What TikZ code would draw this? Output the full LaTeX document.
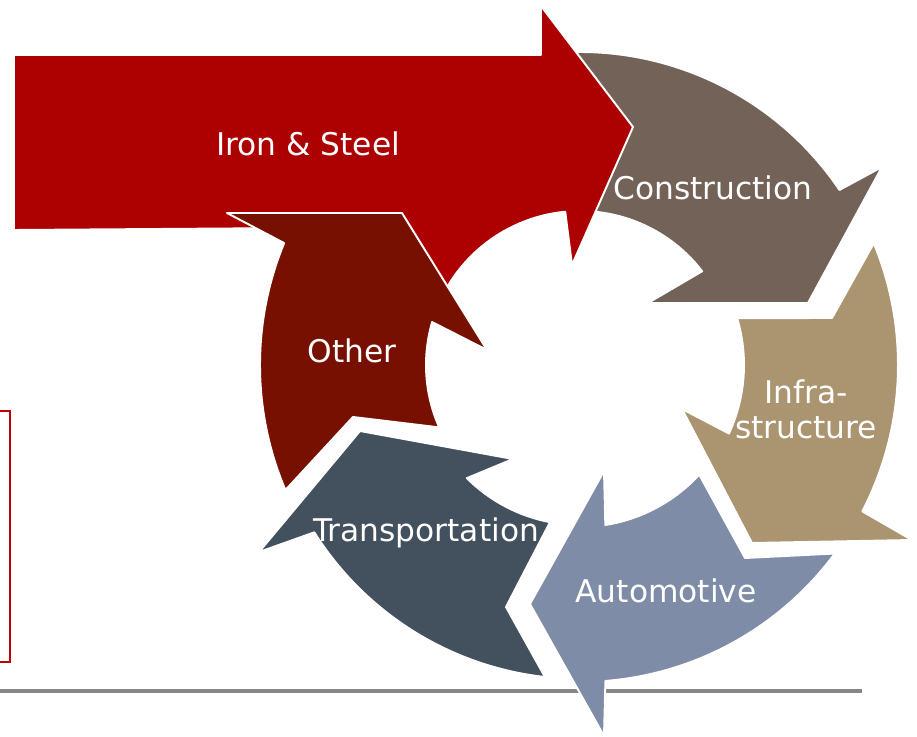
\documentclass[tikz,border=0pt]{standalone}
\usepackage{fontspec}
\setmainfont{DejaVu Sans}

\definecolor{ironred}{RGB}{173,0,0}
\definecolor{otherred}{RGB}{119,16,0}
\definecolor{constrbrown}{RGB}{115,98,87}
\definecolor{infratan}{RGB}{171,148,112}
\definecolor{autoblue}{RGB}{127,140,168}
\definecolor{transslate}{RGB}{67,80,94}
\definecolor{rulegray}{RGB}{134,134,134}
\definecolor{boxred}{RGB}{192,0,0}

\begin{document}
\begin{tikzpicture}[
    x=0.02cm, y=0.02cm,
    segment/.style={draw=white, line width=1.1pt, line join=round},
    word/.style={text=white, anchor=base, inner sep=0pt,
      font=\fontsize{17.8}{19.8}\selectfont},
  ]
    \useasboundingbox (-580,-372) rectangle (337,365);

    \draw[rulegray, line width=2.3pt] (-580,-326) -- (282,-326);
    \draw[boxred, line width=1.1pt] (-590,-46) -- (-570,-46) -- (-570,-297) -- (-590,-297);

    % ring segments, clockwise from the top
    \filldraw[segment, fill=constrbrown] (94:154) -- (94:313)
      arc[start angle=94, end angle=34, radius=313]
      -- (302,198) -- (228,62) -- (68,62) -- (37.5:154)
      arc[start angle=37.5, end angle=94, radius=154] -- cycle;
    \filldraw[segment, fill=infratan] (16.6:164) -- (252,47) -- (22.5:318)
      arc[start angle=22.5, end angle=-27.4, radius=318]
      -- (332,-175) -- (172,-178) -- (102,-44) -- (-24.7:164)
      arc[start angle=-24.7, end angle=16.6, radius=164] -- cycle;
    \filldraw[segment, fill=autoblue] (-42.6:162) -- (165,-193) -- (-36.5:317)
      arc[start angle=-36.5, end angle=-85.4, radius=317]
      -- (24,-371) -- (-50,-239) -- (24,-106) -- (-81:162)
      arc[start angle=-81, end angle=-42.6, radius=162] -- cycle;
    \filldraw[segment, fill=transslate] (259.2:160) -- (-74,-242) -- (263.6:314)
      arc[start angle=263.6, end angle=212.2, radius=314]
      -- (-321,-187) -- (-220,-66) -- (-67,-94) -- (225:160)
      arc[start angle=225, end angle=259.2, radius=160] -- cycle;

    % the input arrow, head over the ring
    \filldraw[segment, fill=ironred] (-566,135) -- (-566,310) -- (-39,310)
      -- (-39,359) -- (53,238) -- (-8,100) -- (95.5:154)
      arc[start angle=95.5, end angle=155, radius=154] -- (-280,137) -- cycle;
    \filldraw[segment, fill=otherred] (-227,-52) -- (203:320)
      arc[start angle=203, end angle=157.6, radius=320]
      -- (-353,152) -- (-178,152) -- (-93,15) -- (163.8:154)
      arc[start angle=163.8, end angle=203.9, radius=154] -- cycle;

    \node[word] (ironlbl) at (-272,209) {Iron \& Steel};
    \node[word] (constrlbl) at (133,165) {Construction};
    \node[word, anchor=center, align=center] (infralbl) at (226,-44) {Infra-\\structure};
    \node[word] (autolbl) at (86,-237) {Automotive};
    \node[word] (translbl) at (-154,-177) {Transportation};
    \node[word] (otherlbl) at (-228,2) {Other};
  \end{tikzpicture}
\end{document}
